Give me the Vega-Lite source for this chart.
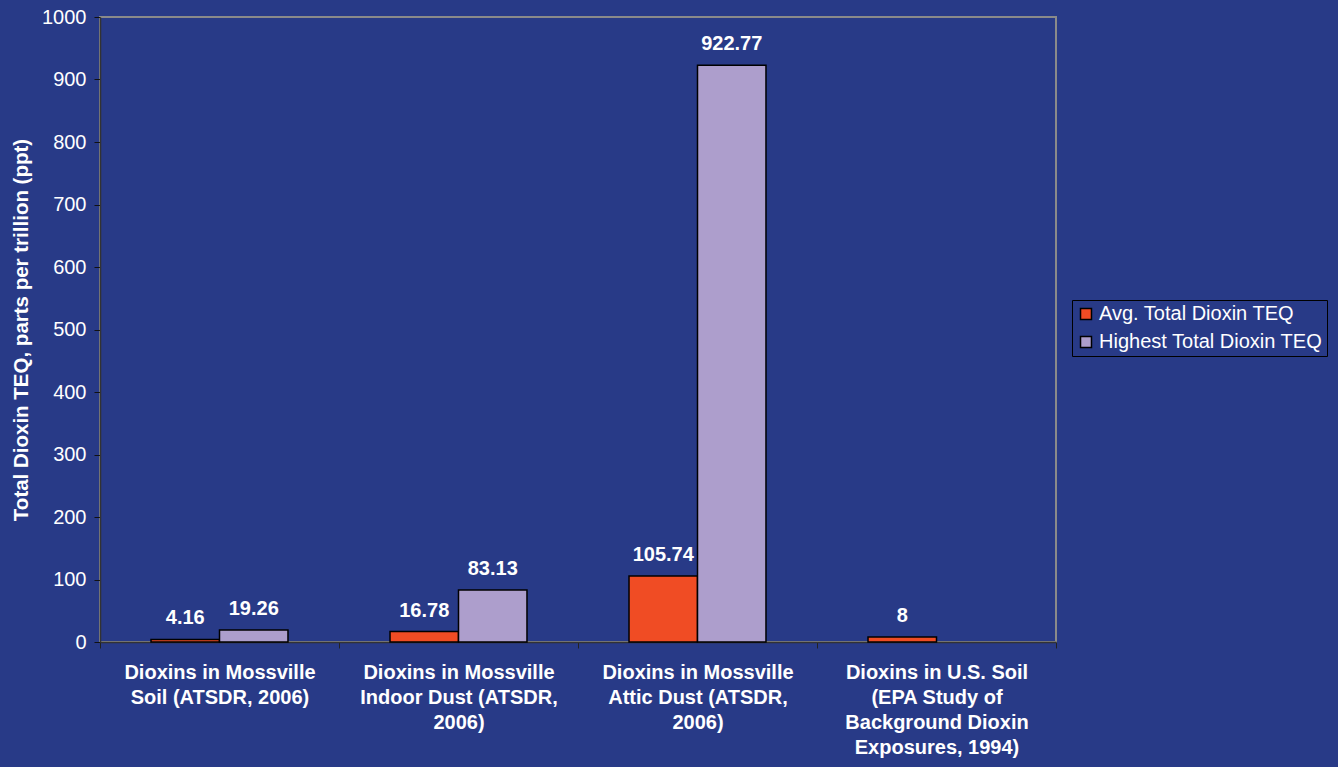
{
  "$schema": "https://vega.github.io/schema/vega-lite/v6.json",
  "width": 956,
  "height": 625,
  "autosize": {"type": "none"},
  "padding": {"left": 100, "top": 17, "right": 282, "bottom": 125},
  "background": "#283a87",
  "config": {
    "font": "Liberation Sans",
    "view": {"stroke": "#8a8a8a", "strokeWidth": 2}
  },
  "data": {
    "values": [
      {"category": "Dioxins in Mossville|Soil (ATSDR, 2006)", "series": "Avg. Total Dioxin TEQ", "value": 4.16},
      {"category": "Dioxins in Mossville|Soil (ATSDR, 2006)", "series": "Highest Total Dioxin TEQ", "value": 19.26},
      {"category": "Dioxins in Mossville|Indoor Dust (ATSDR,|2006)", "series": "Avg. Total Dioxin TEQ", "value": 16.78},
      {"category": "Dioxins in Mossville|Indoor Dust (ATSDR,|2006)", "series": "Highest Total Dioxin TEQ", "value": 83.13},
      {"category": "Dioxins in Mossville|Attic Dust (ATSDR,|2006)", "series": "Avg. Total Dioxin TEQ", "value": 105.74},
      {"category": "Dioxins in Mossville|Attic Dust (ATSDR,|2006)", "series": "Highest Total Dioxin TEQ", "value": 922.77},
      {"category": "Dioxins in U.S. Soil|(EPA Study of|Background Dioxin|Exposures, 1994)", "series": "Avg. Total Dioxin TEQ", "value": 8}
    ]
  },
  "encoding": {
    "x": {
      "field": "category",
      "type": "nominal",
      "sort": null,
      "scale": {"paddingInner": 0, "paddingOuter": 0},
      "axis": {
        "title": null,
        "labelAngle": 0,
        "labelExpr": "split(datum.label, '|')",
        "labelFont": "Liberation Sans",
        "labelFontSize": 20,
        "labelFontWeight": "bold",
        "labelColor": "white",
        "labelLineHeight": 25,
        "labelPadding": 14,
        "labelLimit": 300,
        "tickBand": "extent",
        "tickColor": "#222222",
        "tickSize": 6,
        "domainColor": "#333333",
        "domainWidth": 1.5
      }
    },
    "xOffset": {
      "field": "series",
      "type": "nominal",
      "scale": {"paddingInner": 0, "paddingOuter": 0.745}
    },
    "y": {
      "field": "value",
      "type": "quantitative",
      "scale": {"domain": [0, 1000], "nice": false},
      "axis": {
        "title": "Total Dioxin TEQ, parts per trillion (ppt)",
        "titleFont": "Liberation Sans",
        "titleFontSize": 20.5,
        "titleFontWeight": "bold",
        "titleColor": "white",
        "titlePadding": 10,
        "values": [0, 100, 200, 300, 400, 500, 600, 700, 800, 900, 1000],
        "format": "d",
        "labelFont": "Liberation Sans",
        "labelFontSize": 20,
        "labelColor": "white",
        "labelPadding": 8,
        "grid": false,
        "tickColor": "#111111",
        "tickSize": 6,
        "domainColor": "#333333",
        "domainWidth": 1.5
      }
    }
  },
  "layer": [
    {
      "mark": {"type": "bar", "stroke": "black", "strokeWidth": 1.5},
      "encoding": {
        "color": {
          "field": "series",
          "type": "nominal",
          "scale": {
            "domain": ["Avg. Total Dioxin TEQ", "Highest Total Dioxin TEQ"],
            "range": ["#f04c24", "#ad9ecc"]
          },
          "legend": {
            "title": null,
            "orient": "none",
            "legendX": 972,
            "legendY": 283,
            "symbolType": "square",
            "symbolSize": 120,
            "symbolStrokeColor": "black",
            "symbolStrokeWidth": 1.5,
            "labelFont": "Liberation Sans",
            "labelFontSize": 20,
            "labelColor": "white",
            "labelOffset": 3,
            "labelLimit": 300,
            "rowPadding": 8,
            "padding": 4,
            "strokeColor": "black",
            "fillColor": "#283a87"
          }
        }
      }
    },
    {
      "mark": {
        "type": "text",
        "baseline": "bottom",
        "dy": -11,
        "fontSize": 20,
        "fontWeight": "bold",
        "color": "white",
        "font": "Liberation Sans"
      },
      "encoding": {
        "text": {"field": "value", "type": "quantitative"}
      }
    }
  ]
}
